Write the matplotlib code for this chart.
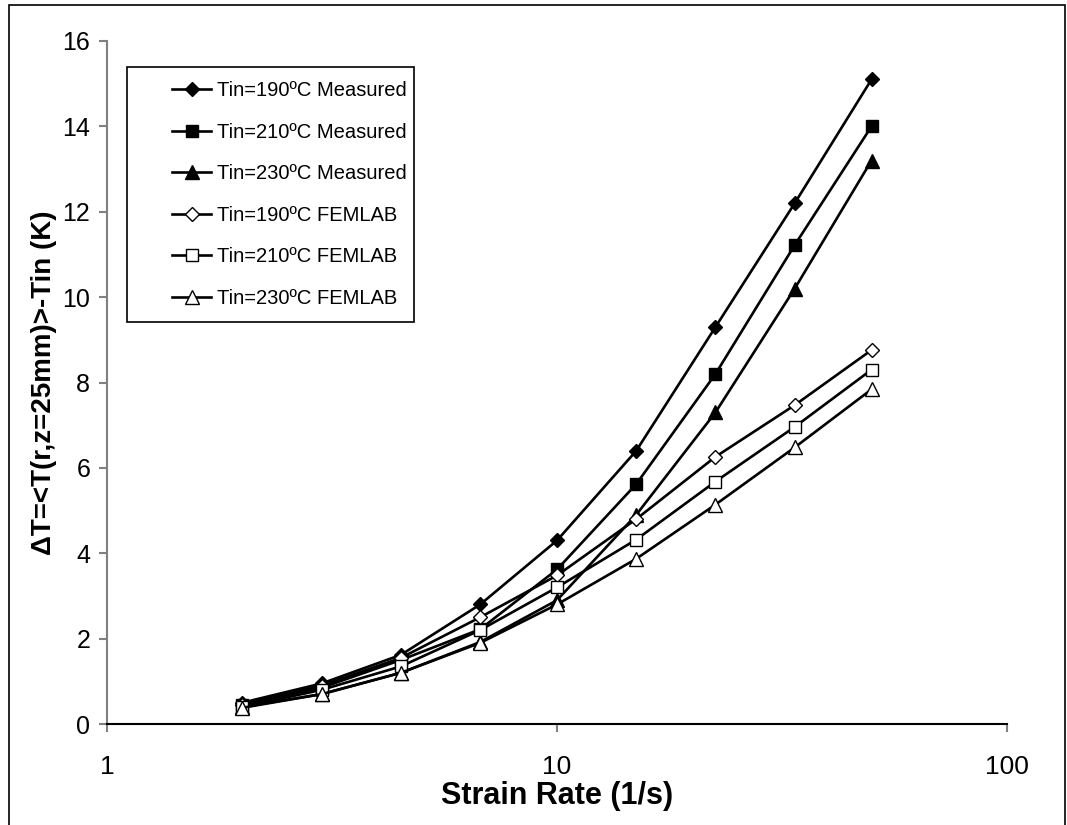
import matplotlib
matplotlib.use("Agg")
import matplotlib.pyplot as plt
from matplotlib.patches import Rectangle

plt.rcParams['font.family'] = ['Liberation Sans', 'DejaVu Sans']

# Strain rates (1/s)
strain_rate = [2, 3, 4.5, 6.75, 10, 15, 22.5, 33.75, 50]

# Measured temperature rise (K)
meas_190 = [0.50, 0.95, 1.62, 2.80, 4.30, 6.40, 9.30, 12.20, 15.10]
meas_210 = [0.45, 0.85, 1.50, 2.22, 3.62, 5.62, 8.20, 11.22, 14.00]
meas_230 = [0.40, 0.70, 1.20, 1.92, 2.90, 4.90, 7.30, 10.20, 13.20]

# FEMLAB simulation (K)
fem_190 = [0.45, 0.90, 1.55, 2.50, 3.48, 4.80, 6.26, 7.47, 8.76]
fem_210 = [0.40, 0.80, 1.35, 2.20, 3.20, 4.32, 5.68, 6.96, 8.30]
fem_230 = [0.38, 0.70, 1.20, 1.90, 2.80, 3.87, 5.14, 6.48, 7.84]

series_labels = [
    "Tin=190ºC Measured", "Tin=210ºC Measured", "Tin=230ºC Measured",
    "Tin=190ºC FEMLAB", "Tin=210ºC FEMLAB", "Tin=230ºC FEMLAB",
]

W, H = 1067, 825
fig = plt.figure(figsize=(W / 100, H / 100), dpi=100)
ax = fig.add_axes([107 / W, 1 - 724 / H, 900 / W, 683 / H])

lw = 1.9
styles = [
    (meas_190, dict(marker="D", markersize=7.5, markerfacecolor="black")),
    (meas_210, dict(marker="s", markersize=9, markerfacecolor="black")),
    (meas_230, dict(marker="^", markersize=10, markerfacecolor="black")),
    (fem_190, dict(marker="D", markersize=7.5, markerfacecolor="white", markeredgewidth=1.0)),
    (fem_210, dict(marker="s", markersize=9, markerfacecolor="white", markeredgewidth=1.0)),
    (fem_230, dict(marker="^", markersize=10, markerfacecolor="white", markeredgewidth=1.0)),
]
for (vals, st), lab in zip(styles, series_labels):
    ax.plot(strain_rate, vals, color="black", linewidth=lw,
            markeredgecolor="black", label=lab, **st)

ax.set_xscale("log")
ax.set_xlim(1, 100)
ax.set_ylim(0, 16)
ax.set_xticks([1, 10, 100])
ax.set_xticklabels(["1", "10", "100"])
ax.minorticks_off()
ax.set_yticks(range(0, 17, 2))

for side in ("top", "right"):
    ax.spines[side].set_visible(False)
ax.spines["left"].set_color("#808080")
ax.spines["left"].set_linewidth(1.5)
ax.spines["bottom"].set_color("black")
ax.spines["bottom"].set_linewidth(1.5)
ax.tick_params(axis="both", direction="out", length=6, width=1.5, color="#808080")
ax.tick_params(axis="y", labelsize=18, pad=6)
ax.tick_params(axis="x", labelsize=19, pad=16)

ax.set_xlabel("Strain Rate (1/s)", fontsize=22, fontweight="bold", labelpad=2)
ax.set_ylabel("ΔT=<T(r,z=25mm)>-Tin (K)", fontsize=20, fontweight="bold", labelpad=4)

# legend entries placed without their own frame; the box is drawn separately
def to_axes(x, y):
    return ax.transAxes.inverted().transform(
        fig.transFigure.transform((x / W, 1 - y / H)))

ax_x0, ax_y0 = to_axes(172, 81)
leg = ax.legend(loc="upper left", bbox_to_anchor=(ax_x0, ax_y0),
                fontsize=14.5, frameon=False,
                handlelength=1.95, labelspacing=1.12, borderpad=0,
                handletextpad=0.3, borderaxespad=0)
leg.set_zorder(6)

fig.canvas.draw()
bb = leg.get_window_extent()
box_l, box_t, box_b = 127, 67, 322
box_r = bb.x1 + 7
ax.add_patch(Rectangle((box_l / W, 1 - box_b / H), (box_r - box_l) / W,
                       (box_b - box_t) / H, transform=fig.transFigure,
                       facecolor="white", edgecolor="black",
                       linewidth=1.2, zorder=5, clip_on=False))

# outer frame around the whole chart
fig.patches.append(Rectangle((9 / W, -0.05), 1056 / W, 1.05 - 5 / H,
                             transform=fig.transFigure, fill=False,
                             edgecolor="black", linewidth=1.2))

fig.savefig("out.png", dpi=100)
